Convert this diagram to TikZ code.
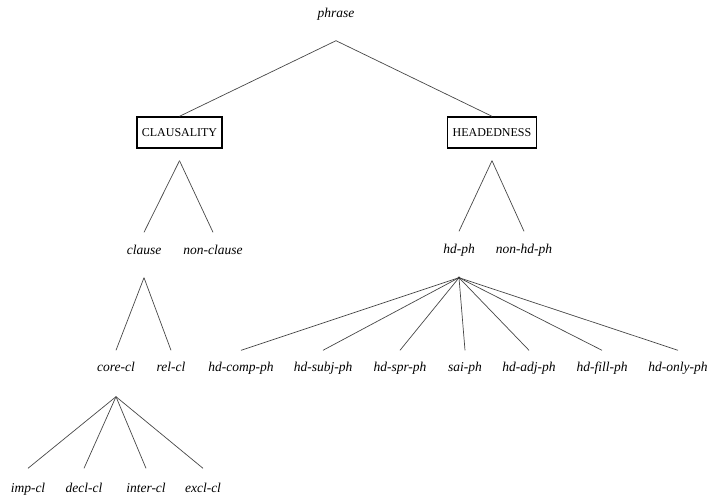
\documentclass[tikz,border=0pt]{standalone}
\usepackage{fontspec}
\setmainfont{Liberation Serif}
\usetikzlibrary{calc}

\tikzset{
  typ/.style={font=\fontsize{13.5}{15}\selectfont\itshape, inner sep=0pt,
              text height=10pt, text depth=3pt},
  dim/.style={font=\fontsize{12}{14}\selectfont, draw, line width=1.4pt,
              inner xsep=5pt, inner ysep=0pt, minimum height=31pt,
              text height=8.5pt, text depth=0pt},
  branch/.style={draw=black!72, line width=0.7pt},
}

\begin{document}
\begin{tikzpicture}[x=1pt, y=-1pt]
\useasboundingbox (0,0) rectangle (707,502);

% top of the hierarchy
\node[typ] (phrase) at (336,14) {phrase};
\node[dim] (claus) at (179.5,132.5) {CLAUSALITY};
\node[dim] (head)  at (492,132.5) {HEADEDNESS};

% second level
\node[typ] (clause)    at (144,251) {clause};
\node[typ] (nonclause) at (213,251) {non-clause};
\node[typ] (hdph)      at (459,250) {hd-ph};
\node[typ] (nonhdph)   at (524,250) {non-hd-ph};

% third level
\node[typ] (corecl) at (116,368) {core-cl};
\node[typ] (relcl)  at (171,368) {rel-cl};
\node[typ] (hdcomp) at (241,368) {hd-comp-ph};
\node[typ] (hdsubj) at (323,368) {hd-subj-ph};
\node[typ] (hdspr)  at (400,368) {hd-spr-ph};
\node[typ] (saiph)  at (465,368) {sai-ph};
\node[typ] (hdadj)  at (529,368) {hd-adj-ph};
\node[typ] (hdfill) at (602,368) {hd-fill-ph};
\node[typ] (hdonly) at (678,368) {hd-only-ph};

% clause types
\node[typ] (impcl)   at (28,489)  {imp-cl};
\node[typ] (declcl)  at (84,489)  {decl-cl};
\node[typ] (intercl) at (146,489) {inter-cl};
\node[typ] (exclcl)  at (203,489) {excl-cl};

% branches
\draw[branch] ([yshift=-20pt]phrase.south) -- (claus.north);
\draw[branch] ([yshift=-20pt]phrase.south) -- (head.north);

\draw[branch] ([yshift=-12pt]claus.south) -- ([yshift=12pt]clause.north);
\draw[branch] ([yshift=-12pt]claus.south) -- ([yshift=12pt]nonclause.north);
\draw[branch] ([yshift=-12pt]head.south) -- ([yshift=12pt]hdph.north);
\draw[branch] ([yshift=-12pt]head.south) -- ([yshift=12pt]nonhdph.north);

\draw[branch] ([yshift=-20pt]clause.south) -- ([yshift=11pt]corecl.north);
\draw[branch] ([yshift=-20pt]clause.south) -- ([yshift=11pt]relcl.north);

\foreach \c in {hdcomp,hdsubj,hdspr,saiph,hdadj,hdfill,hdonly}
  \draw[branch] ([yshift=-21pt]hdph.south) -- ([yshift=11pt]\c.north);
\fill[black!80] ([yshift=-21pt]hdph.south) circle (1.3pt);

\foreach \c in {impcl,declcl,intercl,exclcl}
  \draw[branch] ([yshift=-22pt]corecl.south) -- ([yshift=14pt]\c.north);
\end{tikzpicture}
\end{document}
